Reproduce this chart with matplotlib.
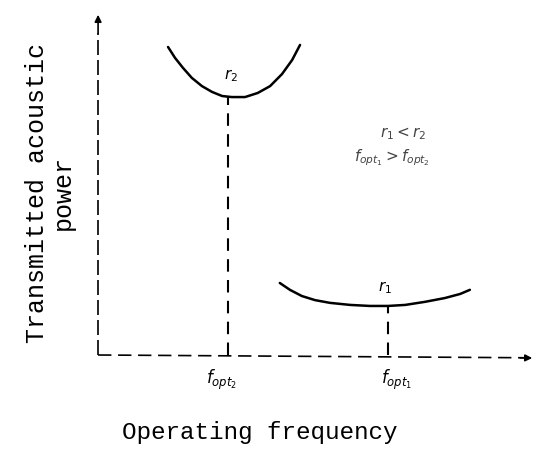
import matplotlib
matplotlib.use("Agg")
import matplotlib.pyplot as plt

# Curve for r2 -- schematic units
f_r2 = [1.66, 1.82, 2.00, 2.20, 2.43, 2.66, 2.89, 3.11, 3.41, 3.70, 3.98, 4.25, 4.48, 4.66]
p_r2 = [8.98, 8.66, 8.37, 8.08, 7.84, 7.67, 7.55, 7.52, 7.52, 7.64, 7.84, 8.19, 8.60, 9.04]
# Curve for r1
f_r1 = [4.20, 4.43, 4.70, 5.00, 5.34, 5.80, 6.25, 6.66, 7.05, 7.50, 7.95, 8.30, 8.52]
p_r1 = [2.10, 1.90, 1.72, 1.60, 1.52, 1.46, 1.43, 1.43, 1.46, 1.55, 1.66, 1.78, 1.90]
# optimum frequencies and minima
f_opt = [3.02, 6.66]
p_min = [7.52, 1.43]
opt_labels = [r"$f_{opt_2}$", r"$f_{opt_1}$"]
curve_labels = [r"$r_2$", r"$r_1$"]
note_lines = [r"$r_1 < r_2$", r"$f_{opt_1} > f_{opt_2}$"]

fig = plt.figure(figsize=(5.41, 4.5), dpi=100)
ax = fig.add_axes([95/541, 95/450, 440/541, 343/450])
ax.set_xlim(0, 10)
ax.set_ylim(0, 10)
ax.axis("off")

lw = 1.8
for fx, py in ((f_r2, p_r2), (f_r1, p_r1)):
    ax.plot(fx, py, color="black", lw=lw, solid_capstyle="round",
            solid_joinstyle="round")

# dashed drop lines
for fo, pm in zip(f_opt, p_min):
    ax.plot([fo, fo], [0, pm], color="black", lw=1.5, ls=(0, (6, 4)),
            clip_on=False)

# axes as dashed arrows
ax.plot([0.07, 0.07], [0, 9.4], color="black", lw=1.2, ls=(0, (9, 3)),
        clip_on=False)
ax.annotate("", xy=(0.07, 10.0), xytext=(0.07, 9.3),
            arrowprops=dict(arrowstyle="-|>", color="black", lw=1.2,
                            mutation_scale=10), annotation_clip=False)
ax.plot([0.07, 9.75], [0, -0.08], color="black", lw=1.2, ls=(0, (8, 4)),
        clip_on=False)
ax.annotate("", xy=(10.0, -0.09), xytext=(9.6, -0.08),
            arrowprops=dict(arrowstyle="-|>", color="black", lw=1.2,
                            mutation_scale=10), annotation_clip=False)

# labels on curves
ax.text(3.1, 8.15, curve_labels[0], fontsize=11, ha="center", va="center")
ax.text(6.6, 1.95, curve_labels[1], fontsize=11, ha="center", va="center")
ax.text(7.0, 6.45, note_lines[0], fontsize=11, ha="center", va="center",
        color="#444444")
ax.text(6.75, 5.75, note_lines[1], fontsize=11, ha="center", va="center",
        color="#444444")

for fo, lab, dx in zip(f_opt, opt_labels, [-0.15, 0.2]):
    ax.text(fo + dx, -0.72, lab, fontsize=12, ha="center", va="center",
            clip_on=False)

mono = "Liberation Mono"
fig.text(260/541, 1 - 432/450, "Operating frequency", fontsize=17.5,
         family=mono, ha="center", va="center")
fig.text(50/541, 1 - 193/450, "Transmitted acoustic\npower", fontsize=18,
         family=mono, ha="center", va="center", rotation=90, linespacing=1.1)

fig.savefig("out.png", dpi=100)
